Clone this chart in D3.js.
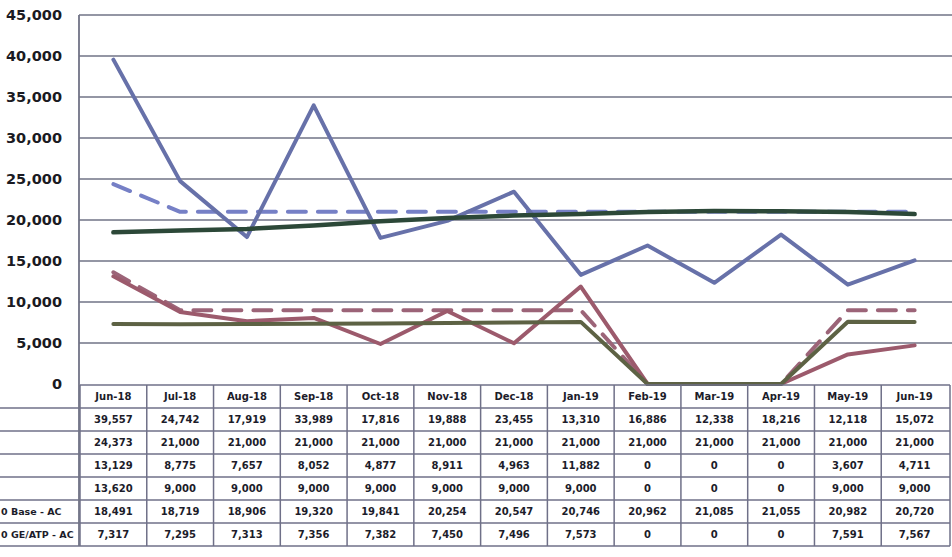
<!DOCTYPE html>
<html>
<head>
<meta charset="utf-8">
<script src="https://cdn.jsdelivr.net/npm/d3@7/dist/d3.min.js"></script>
<style>
  html, body { margin: 0; padding: 0; background: #fff; }
  svg { display: block; }
</style>
</head>
<body>
<svg id="chart" width="952" height="557"></svg>
<script>
// Months along the x axis
const months = ["Jun-18","Jul-18","Aug-18","Sep-18","Oct-18","Nov-18","Dec-18",
                "Jan-19","Feb-19","Mar-19","Apr-19","May-19","Jun-19"];

// Series values (one array per table row)
const actualA   = [39557,24742,17919,33989,17816,19888,23455,13310,16886,12338,18216,12118,15072];
const targetA   = [24373,21000,21000,21000,21000,21000,21000,21000,21000,21000,21000,21000,21000];
const actualB   = [13129,8775,7657,8052,4877,8911,4963,11882,0,0,0,3607,4711];
const targetB   = [13620,9000,9000,9000,9000,9000,9000,9000,0,0,0,9000,9000];
const baseAC    = [18491,18719,18906,19320,19841,20254,20547,20746,20962,21085,21055,20982,20720];
const geAtpAC   = [7317,7295,7313,7356,7382,7450,7496,7573,0,0,0,7591,7567];

// Row labels of the data table
const rowLabels = ["", "", "", "", "0 Base - AC", "0 GE/ATP - AC"];

// Y axis ticks
const yTicks = [0,5000,10000,15000,20000,25000,30000,35000,40000,45000];

const series = [
  { values: targetA, color: "#7680c6", width: 4,   dash: "18,12" },
  { values: actualA, color: "#6771a9", width: 4,   dash: null },
  { values: targetB, color: "#9c6478", width: 4,   dash: "18,12" },
  { values: actualB, color: "#9c5a6c", width: 4,   dash: null },
  { values: baseAC,  color: "#2c4838", width: 4.5, dash: null },
  { values: geAtpAC, color: "#5d6244", width: 4,   dash: null }
];
const tableRows = [actualA, targetA, actualB, targetB, baseAC, geAtpAC];

const svg = d3.select("#chart");
const plotLeft = 80, plotRight = 948, plotTop = 15, plotBottom = 384;
const gridColor = "#717386";

const x = d3.scaleBand().domain(months).range([plotLeft, plotRight]).padding(0);
const y = d3.scaleLinear().domain([0, 45000]).range([plotBottom, plotTop]);
const fmt = d3.format(",");

// Gridlines
svg.append("g").selectAll("line").data(yTicks.filter(d => d > 0)).join("line")
  .attr("x1", plotLeft - 1).attr("x2", 952)
  .attr("y1", d => y(d)).attr("y2", d => y(d))
  .attr("stroke", gridColor).attr("stroke-width", 1.6);

// Y axis labels
svg.append("g").selectAll("text").data(yTicks).join("text")
  .attr("x", 62).attr("y", d => y(d)).attr("dy", "0.35em")
  .attr("text-anchor", "end")
  .attr("font-family", "DejaVu Sans, sans-serif").attr("font-weight", "bold")
  .attr("font-size", 14.5).attr("fill", "#1a1a22")
  .text(d => fmt(d));

// Lines
const line = d3.line()
  .x((d, i) => x(months[i]) + x.bandwidth() / 2)
  .y(d => y(d));

svg.append("g").selectAll("path").data(series).join("path")
  .attr("d", s => line(s.values))
  .attr("fill", "none")
  .attr("stroke", s => s.color)
  .attr("stroke-width", s => s.width)
  .attr("stroke-dasharray", s => s.dash)
  .attr("stroke-linejoin", "round")
  .attr("stroke-linecap", "round");

// Data table
const headerTop = 385, rowH = 23;
const tableBottom = headerTop + rowH * 7;
const tableColor = "#6f7088";
const tg = svg.append("g");

// Horizontal table rules
const rules = d3.range(8).map(i => headerTop + i * rowH);
tg.selectAll("line.h").data(rules).join("line")
  .attr("class", "h")
  .attr("x1", (d, i) => i === 0 ? plotLeft : 0).attr("x2", 950)
  .attr("y1", d => d).attr("y2", d => d)
  .attr("stroke", tableColor).attr("stroke-width", 1.5);

// Vertical table rules
const edges = months.map(m => x(m)).concat([plotRight + 2]);
tg.selectAll("line.v").data(edges).join("line")
  .attr("class", "v")
  .attr("x1", d => d).attr("x2", d => d)
  .attr("y1", headerTop).attr("y2", tableBottom)
  .attr("stroke", tableColor).attr("stroke-width", 1.5);

// Plot left border running through the table
svg.append("line")
  .attr("x1", plotLeft - 1).attr("x2", plotLeft - 1)
  .attr("y1", plotTop).attr("y2", tableBottom)
  .attr("stroke", gridColor).attr("stroke-width", 1.8);

// Header cells
tg.selectAll("text.hd").data(months).join("text")
  .attr("class", "hd")
  .attr("x", d => x(d) + x.bandwidth() / 2)
  .attr("y", headerTop + rowH / 2).attr("dy", "0.35em")
  .attr("text-anchor", "middle")
  .attr("font-family", "DejaVu Sans, sans-serif").attr("font-weight", "bold")
  .attr("font-size", 10).attr("fill", "#1c1c2a")
  .text(d => d);

// Value cells
tableRows.forEach((vals, r) => {
  tg.append("g").selectAll("text").data(vals).join("text")
    .attr("x", (d, i) => x(months[i]) + x.bandwidth() / 2)
    .attr("y", headerTop + rowH * (r + 1) + rowH / 2).attr("dy", "0.35em")
    .attr("text-anchor", "middle")
    .attr("font-family", "DejaVu Sans, sans-serif").attr("font-weight", "bold")
    .attr("font-size", 10).attr("fill", "#1c1c2a")
    .text(d => fmt(d));
});

// Row labels
tg.selectAll("text.rl").data(rowLabels).join("text")
  .attr("class", "rl")
  .attr("x", 1)
  .attr("y", (d, i) => headerTop + rowH * (i + 1) + rowH / 2).attr("dy", "0.35em")
  .attr("font-family", "DejaVu Sans, sans-serif").attr("font-weight", "bold")
  .attr("font-size", 9.5).attr("fill", "#1c1c2a")
  .text(d => d);
</script>
</body>
</html>
